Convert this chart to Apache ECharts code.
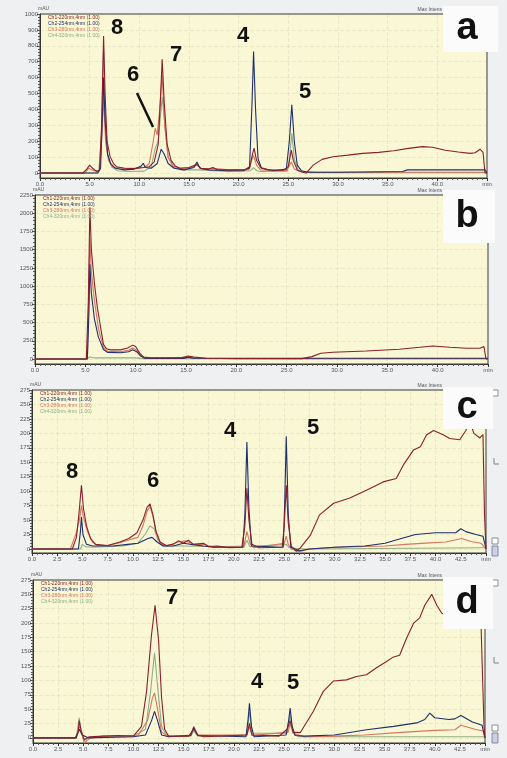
<!DOCTYPE html>
<html>
<head>
<meta charset="utf-8">
<script src="https://cdn.jsdelivr.net/npm/echarts@6/dist/echarts.min.js"></script>
<style>
  html, body { margin: 0; padding: 0; background: #eef0f2; }
  #chart { width: 507px; height: 758px; }
</style>
</head>
<body>
<div id="chart"></div>
<script>
// channel names (legend)
var channels = ['Ch1-220nm,4nm (1.00)', 'Ch2-254nm,4nm (1.00)', 'Ch3-280nm,4nm (1.00)', 'Ch4-320nm,4nm (1.00)'];
var chColors = ['#8a1f2d', '#1f2e6e', '#d9745f', '#8fae88'];

// y tick labels per panel
var yTicksA = [0, 100, 200, 300, 400, 500, 600, 700, 800, 900, 1000];
var yTicksB = [0, 250, 500, 750, 1000, 1250, 1500, 1750, 2000, 2250];
var yTicksCD = [0, 25, 50, 75, 100, 125, 150, 175, 200, 225, 250, 275];

// panel a  [min, mAU]
var aCh1 = [[0,0],[4.3,0],[4.7,25],[5.0,50],[5.3,30],[5.7,10],[6.0,20],[6.2,300],[6.4,862],[6.55,500],[6.75,200],[7.05,105],[7.4,60],[7.7,40],[8.5,30],[9.5,28],[10.4,35],[11.0,40],[11.5,70],[11.9,180],[12.15,500],[12.3,715],[12.5,450],[12.8,180],[13.2,80],[13.6,45],[14.1,30],[15.0,35],[15.8,55],[16.2,30],[17.0,25],[17.4,35],[17.8,22],[19.0,20],[20.5,20],[21.1,30],[21.4,120],[21.55,157],[21.8,80],[22.2,35],[23.0,20],[24.5,18],[25.0,40],[25.3,145],[25.5,80],[25.9,20],[26.4,5],[26.8,0],[27.5,50],[28.4,86],[29.5,103],[31.0,113],[32.5,124],[34.1,130],[35.6,140],[37.1,155],[38.5,166],[39.5,162],[40.8,143],[42.1,132],[43.3,124],[43.8,128],[44.3,150],[44.6,130],[44.8,0],[45,0]];
var aCh2 = [[0,0],[5.8,0],[6.1,30],[6.3,400],[6.4,600],[6.55,330],[6.8,120],[7.1,60],[7.6,30],[8.5,20],[9.5,25],[10.2,45],[10.4,62],[10.6,35],[11.2,30],[11.8,60],[12.2,150],[12.5,120],[12.9,60],[13.5,30],[14.5,20],[15.5,35],[15.8,70],[16.1,30],[17.0,20],[19.0,15],[20.5,15],[21.1,40],[21.35,450],[21.5,764],[21.7,400],[21.95,90],[22.3,30],[23.5,15],[24.8,25],[25.1,200],[25.35,429],[25.6,200],[25.9,50],[26.3,15],[27.0,5],[30,5],[36.5,10],[37.0,20],[44.8,20],[45,0]];
var aCh3 = [[0,0],[4.5,0],[4.9,30],[5.1,40],[5.4,15],[6.0,15],[6.25,250],[6.4,480],[6.6,200],[6.9,80],[7.4,35],[8.5,30],[9.5,30],[10.5,35],[11.0,60],[11.4,200],[11.6,282],[11.8,240],[12.05,400],[12.3,616],[12.55,300],[12.9,100],[13.4,45],[14.0,30],[15.0,30],[15.8,50],[16.3,25],[17.4,30],[19.0,20],[21.0,20],[21.3,80],[21.5,110],[21.8,50],[22.2,20],[24.8,15],[25.3,70],[25.6,25],[26.2,10],[28,5],[44.8,5],[45,0]];
var aCh4 = [[0,0],[5.9,0],[6.2,250],[6.4,790],[6.55,400],[6.8,120],[7.2,40],[7.8,15],[9,10],[10.5,12],[11.2,40],[11.6,157],[11.9,200],[12.3,478],[12.55,320],[12.9,100],[13.4,40],[14.2,20],[16,20],[19,10],[21.2,15],[21.5,35],[21.8,15],[22.2,10],[24.9,12],[25.1,80],[25.35,250],[25.6,90],[26.0,15],[27,3],[45,3]];

// panel b
var bCh1 = [[0,0],[5.1,0],[5.3,800],[5.45,2080],[5.6,1500],[5.9,1040],[6.2,700],[6.45,490],[6.8,200],[7.1,140],[7.5,125],[8.5,125],[9.2,150],[9.7,190],[10.0,170],[10.4,80],[10.8,25],[11.5,15],[14.5,15],[15.2,40],[15.8,25],[17,10],[20,5],[26.5,5],[27.5,32],[28.4,78],[29.6,92],[32.9,110],[36.2,133],[38.2,160],[39.5,178],[41.2,160],[42.9,147],[44.2,147],[44.6,170],[44.8,0],[45,0]];
var bCh2 = [[0,0],[5.2,0],[5.35,600],[5.45,1300],[5.6,900],[5.9,550],[6.3,300],[6.8,130],[7.2,90],[8.5,85],[9.3,100],[9.7,125],[10.1,100],[10.5,40],[10.9,10],[12,8],[14.8,8],[15.2,25],[15.7,10],[26,10],[45,10]];
var bCh3 = [[0,0],[5.2,0],[5.35,900],[5.45,1650],[5.6,1200],[5.9,800],[6.3,420],[6.8,160],[7.2,105],[8.5,100],[9.3,120],[9.7,150],[10.1,120],[10.5,50],[10.9,12],[12,10],[15,20],[16,10],[27,5],[45,5]];
var bCh4 = [[0,0],[5.2,0],[5.4,30],[5.6,20],[6,15],[10,15],[10.8,5],[45,3]];

// panel c
var cCh1 = [[0,0],[4.0,0],[4.4,20],[4.65,60],[4.9,110],[5.1,70],[5.4,40],[5.8,18],[6.3,8],[7.5,6],[8.7,12],[9.6,18],[10.4,28],[11.0,50],[11.4,72],[11.7,78],[12.0,58],[12.3,30],[12.7,12],[13.3,6],[14.0,8],[14.5,14],[15.0,10],[15.5,15],[16.0,8],[17.0,10],[17.5,4],[18.4,5],[19.5,2],[20.8,3],[21.1,40],[21.3,105],[21.5,50],[21.8,8],[22.5,2],[24.8,3],[25.0,40],[25.2,110],[25.4,45],[25.7,5],[26.2,-4],[26.6,2],[27.6,24],[28.5,59],[29.9,79],[31.5,88],[33.2,102],[34.8,116],[36.1,122],[36.8,145],[37.8,171],[38.5,177],[39.1,197],[39.8,205],[40.8,197],[41.4,191],[42.4,189],[43.0,205],[43.4,220],[43.8,200],[44.4,192],[44.7,198],[44.85,60],[45,0]];
var cCh2 = [[0,0],[4.6,0],[4.8,30],[4.9,55],[5.05,25],[5.4,8],[6,5],[8,5],[9.5,8],[10.5,10],[11.5,18],[11.9,20],[12.4,12],[13,5],[14,5],[15,10],[15.7,8],[17,5],[18,3],[20.9,3],[21.1,60],[21.3,185],[21.5,70],[21.75,5],[24.9,3],[25.05,80],[25.2,195],[25.4,60],[25.65,3],[26.5,-3],[27.5,0],[30,3],[33,5],[35,10],[36,15],[38,25],[40,28],[42,28],[42.5,35],[43,30],[44,25],[44.7,22],[45,0]];
var cCh3 = [[0,0],[3.8,0],[4.4,28],[4.7,50],[4.9,75],[5.1,55],[5.5,30],[6.0,12],[6.5,6],[7.5,6],[8.5,10],[9.5,15],[10.5,20],[11.0,40],[11.4,65],[11.7,74],[12.0,55],[12.3,28],[12.7,10],[13.3,5],[14.5,12],[15.2,14],[16,8],[17,8],[18,3],[21,5],[21.3,30],[21.6,10],[22,2],[25.0,10],[25.2,22],[25.4,8],[25.7,0],[26.5,-5],[27.5,0],[30,3],[35,5],[37,8],[39,10],[41,12],[42.6,18],[43.5,13],[44.5,10],[45,0]];
var cCh4 = [[0,0],[4.8,0],[5.0,8],[5.3,4],[6,3],[9,5],[10.5,10],[11.2,25],[11.7,40],[12.1,35],[12.5,15],[13,5],[15,5],[21,3],[21.3,15],[21.6,4],[25.2,8],[25.5,2],[27,0],[45,2]];

// panel d
var dCh1 = [[0,0],[4.2,0],[4.5,10],[4.6,30],[4.8,12],[5.1,-3],[5.6,2],[7,3],[8.5,4],[10,3],[10.8,20],[11.3,80],[11.8,180],[12.15,231],[12.5,170],[12.8,70],[13.1,15],[13.5,3],[15.5,3],[16.0,15],[16.4,5],[17,2],[21.3,5],[21.55,25],[21.8,5],[24.5,3],[25.3,15],[25.6,30],[25.9,10],[26.6,9],[27.9,46],[28.9,81],[29.9,99],[31.2,101],[32.2,107],[33.2,110],[34.2,122],[35.2,133],[35.9,141],[36.5,144],[37.2,174],[37.9,200],[38.5,209],[39.0,231],[39.7,250],[40.2,231],[40.7,217],[42,208],[43.5,205],[44.6,200],[44.9,20],[45,0]];
var dCh2 = [[0,0],[4.3,0],[4.6,15],[4.9,5],[5.5,0],[10,2],[11.2,5],[11.8,30],[12.1,46],[12.4,30],[12.8,5],[13.5,2],[15.7,4],[16.0,18],[16.4,4],[21.2,2],[21.4,30],[21.55,60],[21.75,20],[22,2],[25.2,5],[25.45,30],[25.6,52],[25.8,20],[26.1,4],[27,3],[30,5],[33.2,14],[35.9,20],[38.2,26],[39.0,32],[39.5,43],[40.0,35],[41.4,32],[42.0,33],[42.6,39],[43.7,28],[44.7,22],[45,0]];
var dCh3 = [[0,0],[4.3,0],[4.6,20],[4.8,12],[5.1,-9],[5.4,-4],[5.8,0],[7,3],[9,3],[10.5,5],[11.4,30],[11.9,70],[12.1,78],[12.4,50],[12.8,10],[13.5,2],[15.7,5],[16.0,20],[16.4,5],[21.3,5],[21.55,20],[21.8,4],[25.4,10],[25.6,25],[25.9,8],[27,2],[30,3],[33,5],[37,10],[40,13],[42,14],[42.6,22],[44,15],[44.8,12],[45,0]];
var dCh4 = [[0,0],[4.3,0],[4.6,35],[4.8,10],[5.1,-5],[5.5,0],[7,2],[10,3],[11.2,15],[11.7,80],[12.1,148],[12.4,90],[12.8,20],[13.3,3],[15.7,3],[16.0,12],[16.4,3],[21.3,5],[21.55,45],[21.8,8],[25.3,8],[25.6,40],[25.9,8],[26.5,2],[45,2]];

var panels = [
  { grid: {left: 40, top: 14, width: 447, height: 164}, ymin: -31, ymax: 1000, ticks: yTicksA, minor: 20, xint: 5, data: [aCh1, aCh2, aCh3, aCh4] },
  { grid: {left: 35, top: 195, width: 453, height: 169}, ymin: -69, ymax: 2250, ticks: yTicksB, minor: 50, xint: 5, data: [bCh1, bCh2, bCh3, bCh4] },
  { grid: {left: 32, top: 390, width: 454, height: 163}, ymin: -7, ymax: 275, ticks: yTicksCD, minor: 5, xint: 2.5, data: [cCh1, cCh2, cCh3, cCh4] },
  { grid: {left: 33, top: 580, width: 452, height: 163}, ymin: -9, ymax: 275, ticks: yTicksCD, minor: 5, xint: 2.5, data: [dCh1, dCh2, dCh3, dCh4] }
];

var font = 'Liberation Sans, Arial, sans-serif';
var gridLine = { show: true, lineStyle: { color: 'rgba(150,150,120,0.14)', type: 'dashed' } };
var grids = [], xAxes = [], yAxes = [], minorY = [], series = [], legends = [], graphics = [];

panels.forEach(function (p, i) {
  grids.push({
    left: p.grid.left, top: p.grid.top, width: p.grid.width, height: p.grid.height,
    show: true, backgroundColor: '#f9f7d4', borderColor: '#3a3a3a', borderWidth: 1
  });
  xAxes.push({
    gridIndex: i, type: 'value', min: 0, max: 45, interval: p.xint,
    axisLine: { onZero: false, lineStyle: { color: '#333' } },
    axisTick: { length: 3, lineStyle: { color: '#333' } },
    minorTick: { show: true, splitNumber: p.xint === 5 ? 10 : 5, length: 2, lineStyle: { color: '#555' } },
    axisLabel: {
      fontSize: 6, color: '#555', margin: 3, fontFamily: font,
      formatter: function (v) { return v === 45 ? 'min' : v.toFixed(1); }
    },
    splitLine: gridLine
  });
  yAxes.push({
    gridIndex: i, type: 'value', min: p.ymin, max: p.ymax,
    axisLine: { lineStyle: { color: '#333' } },
    axisTick: { length: 3, customValues: p.ticks, lineStyle: { color: '#333' } },
    axisLabel: { customValues: p.ticks, fontSize: 6, color: '#555', margin: 2, fontFamily: font,
      formatter: function (v) { return String(v); } },
    splitLine: gridLine
  });
  var dense = [];
  for (var v = 0; v <= p.ymax; v += p.minor) dense.push(v);
  minorY.push({
    gridIndex: i, type: 'value', min: p.ymin, max: p.ymax, position: 'left',
    axisLine: { show: false }, axisLabel: { show: false }, splitLine: { show: false },
    axisTick: { length: 2, customValues: dense, lineStyle: { color: '#555' } }
  });
  // draw Ch4 first, Ch1 last so maroon sits on top
  for (var c = 3; c >= 0; c--) {
    series.push({
      name: channels[c], type: 'line', xAxisIndex: i, yAxisIndex: i,
      data: p.data[c], showSymbol: false, silent: true,
      lineStyle: { color: chColors[c], width: 1.1 }, itemStyle: { color: chColors[c] }
    });
  }
  legends.push({
    left: p.grid.left + 3, top: p.grid.top + 1, orient: 'vertical', itemGap: 0,
    icon: 'none', itemWidth: 0, itemHeight: 5, padding: 0, selectedMode: false,
    textStyle: { fontSize: 5, fontFamily: font, padding: 0, lineHeight: 6 },
    data: channels.map(function (n, k) { return { name: n, textStyle: { color: chColors[k] } }; })
  });
  graphics.push({ type: 'text', x: p.grid.left - 2, y: p.grid.top - 8,
    style: { text: 'mAU', font: '5px ' + font, fill: '#555' } });
  graphics.push({ type: 'text', x: 442, y: p.grid.top - 7,
    style: { text: 'Max Intens', font: '5px ' + font, fill: '#555', align: 'right' } });
});

// white label boxes and panel letters
var boxes = [[443, 6, 55, 46, 'a'], [443, 190, 52, 53, 'b'], [443, 387, 50, 42, 'c'], [443, 577, 50, 52, 'd']];
boxes.forEach(function (b) {
  graphics.push({ type: 'rect', z: 100, shape: { x: b[0], y: b[1], width: b[2], height: b[3] }, style: { fill: '#fbfbfb' } });
  graphics.push({ type: 'text', z: 101, x: 467, y: b[1] + b[3] / 2,
    style: { text: b[4], font: 'bold 38px ' + font, fill: '#111', align: 'center', verticalAlign: 'middle' } });
});

// peak numbers
var peakLabels = [
  ['8', 117, 28], ['7', 176, 55], ['6', 133, 75], ['4', 243, 36], ['5', 305, 92],
  ['8', 72, 472], ['6', 153, 481], ['4', 230, 431], ['5', 313, 428],
  ['7', 172, 598], ['4', 257, 682], ['5', 293, 683]
];
peakLabels.forEach(function (l) {
  graphics.push({ type: 'text', z: 50, x: l[1], y: l[2],
    style: { text: l[0], font: 'bold 22px ' + font, fill: '#111', align: 'center', verticalAlign: 'middle' } });
});
graphics.push({ type: 'line', z: 50, shape: { x1: 137, y1: 93, x2: 153, y2: 127 }, style: { stroke: '#111', lineWidth: 2.5 } });

// scroll widgets at the right of c and d
[[390, 458, 538], [580, 657, 725]].forEach(function (s) {
  graphics.push({ type: 'rect', shape: { x: 492, y: s[0], width: 6, height: 6 }, style: { fill: '#fff', stroke: '#777', lineWidth: 0.8 } });
  graphics.push({ type: 'polyline', shape: { points: [[494, s[1]], [494, s[1] + 6], [499, s[1] + 6]] }, style: { stroke: '#666', fill: null, lineWidth: 0.8 } });
  graphics.push({ type: 'rect', shape: { x: 492, y: s[2], width: 6, height: 6 }, style: { fill: '#fff', stroke: '#777', lineWidth: 0.8 } });
  graphics.push({ type: 'rect', shape: { x: 492, y: s[2] + 8, width: 6, height: 10 }, style: { fill: '#c8d0e8', stroke: '#778', lineWidth: 0.8 } });
});

var chart = echarts.init(document.getElementById('chart'), null, { renderer: 'canvas' });
chart.setOption({
  backgroundColor: '#eef0f2',
  animation: false,
  grid: grids,
  xAxis: xAxes,
  yAxis: yAxes.concat(minorY),
  legend: legends,
  series: series,
  graphic: graphics
});
</script>
</body>
</html>
